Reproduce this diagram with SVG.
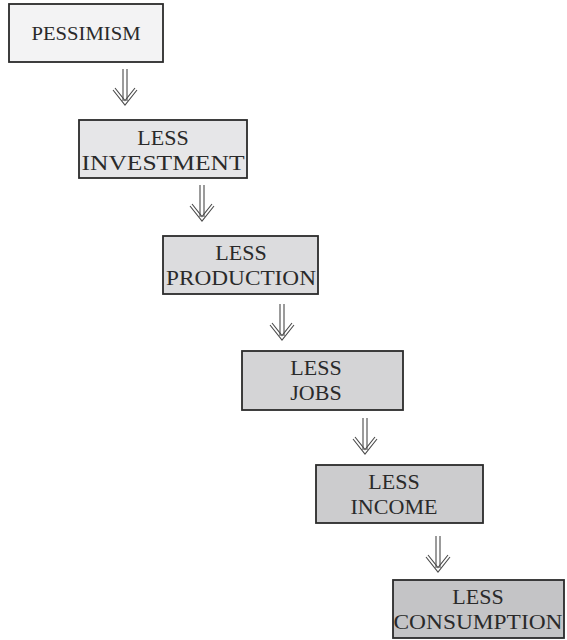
<svg xmlns="http://www.w3.org/2000/svg" width="567" height="640" viewBox="0 0 567 640">
<style>
.box{stroke:#2b2b2b;stroke-width:1.8}
.t{font-family:"Liberation Serif","Times New Roman",serif;font-size:22px;fill:#2a2a2a;text-anchor:middle}
.sh{fill:none;stroke:#4a4a4a;stroke-width:1.1}
</style>
<defs>
<g id="arr">
<path class="sh" d="M-2,0 V32 M2,0 V32"/>
<path class="sh" d="M-12,21 L0,36 L12,21 M-10,19 L0,31.5 L10,19"/>
</g>
</defs>
<rect width="567" height="640" fill="#ffffff"/>
<g id="connectors">
<use href="#arr" x="125" y="69"/>
<use href="#arr" x="202" y="185"/>
<use href="#arr" x="282" y="304"/>
<use href="#arr" x="365" y="418"/>
<use href="#arr" x="438" y="536"/>
</g>
<g id="n1">
<rect class="box" x="9" y="4" width="154" height="58" fill="#f3f3f4"/>
<text class="t" x="86" y="40" style="font-size:19px" textLength="109" lengthAdjust="spacingAndGlyphs">PESSIMISM</text>
</g>
<g id="n2">
<rect class="box" x="79" y="120" width="168" height="58" fill="#e6e6e8"/>
<text class="t" x="163" y="145">LESS</text>
<text class="t" x="163" y="170" textLength="163" lengthAdjust="spacingAndGlyphs">INVESTMENT</text>
</g>
<g id="n3">
<rect class="box" x="163" y="236" width="155" height="58" fill="#dcdcde"/>
<text class="t" x="241" y="260">LESS</text>
<text class="t" x="241" y="285" textLength="150" lengthAdjust="spacingAndGlyphs">PRODUCTION</text>
</g>
<g id="n4">
<rect class="box" x="242" y="351" width="161" height="59" fill="#d4d4d6"/>
<text class="t" x="316" y="375">LESS</text>
<text class="t" x="316" y="400">JOBS</text>
</g>
<g id="n5">
<rect class="box" x="316" y="465" width="167" height="58" fill="#ccccce"/>
<text class="t" x="394" y="489">LESS</text>
<text class="t" x="394" y="514" textLength="87" lengthAdjust="spacingAndGlyphs">INCOME</text>
</g>
<g id="n6">
<rect class="box" x="393" y="580" width="171" height="58" fill="#c4c4c6"/>
<text class="t" x="478" y="604">LESS</text>
<text class="t" x="478" y="629" textLength="169" lengthAdjust="spacingAndGlyphs">CONSUMPTION</text>
</g>
</svg>
